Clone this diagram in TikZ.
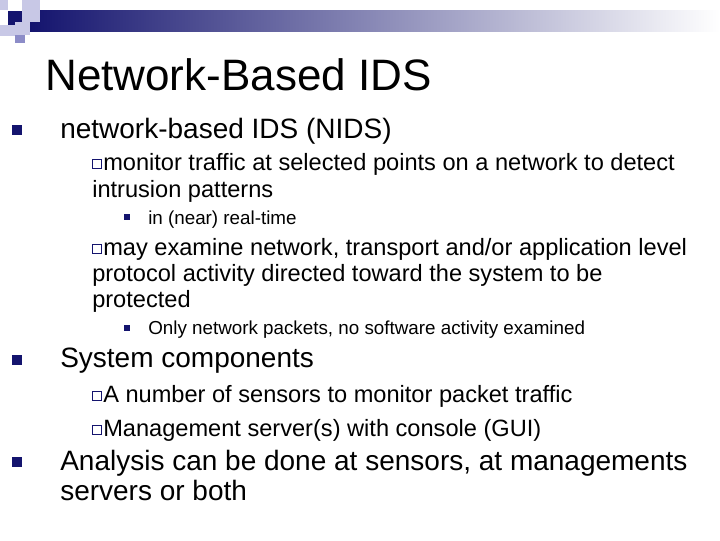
\documentclass[tikz,border=0pt]{standalone}
\usepackage{fontspec}
\setmainfont{Liberation Sans}
\begin{document}
\begin{tikzpicture}[x=0.75pt,y=-0.75pt,
 t/.style={anchor=base west,inner sep=0pt},
 lA/.style={t,font=\fontsize{21}{23}\selectfont},
 lB/.style={t,font=\fontsize{17.7}{20}\selectfont},
 lC/.style={t,font=\fontsize{14.1}{16}\selectfont},
 bA/.style={fill=bnavy,minimum size=7.5pt,inner sep=0pt},
 bB/.style={draw=bnavy,line width=0.6pt,minimum size=7pt,inner sep=0pt},
 bC/.style={fill=bnavy,minimum size=5pt,inner sep=0pt}]
\definecolor{bnavy}{RGB}{20,20,110}
\definecolor{sq1}{RGB}{200,200,230}
\definecolor{sq2}{RGB}{140,140,200}
\useasboundingbox (0,0) rectangle (720,540);
\fill[white] (0,0) rectangle (720,540);
\shade[left color=bnavy,right color=white] (30,10) rectangle (720,31);
\fill[sq1] (0,0) rectangle (8,10);
\fill[sq1] (22,0) rectangle (40,10);
\fill[sq1] (22,10) rectangle (40,22);
\fill[bnavy] (8,11) rectangle (22,25);
\fill[sq1] (0,25) rectangle (15,36);
\fill[sq1] (15,22) rectangle (30,35);
\fill[sq2] (15,35) rectangle (25,43);
\node[t,font=\fontsize{33}{35}\selectfont] (title) at (45,90) {Network-Based IDS};
\node[bA] (b1) at (17,130) {};
\node[lA] (a1) at (60,138) {network-based IDS (NIDS)};
\node[bB] (b2) at (97,164) {};
\node[lB] (a2) at (103,170) {monitor traffic at selected points on a network to detect};
\node[lB] (a2b) at (92,197) {intrusion patterns};
\node[bC] (b3) at (127,217) {};
\node[lC] (a3) at (148,224) {in (near) real-time};
\node[bB] (b4) at (97,249) {};
\node[lB] (a4) at (103,255) {may examine network, transport and/or application level};
\node[lB] (a4b) at (92,281) {protocol activity directed toward the system to be};
\node[lB] (a4c) at (92,307) {protected};
\node[bC] (b5) at (127,328) {};
\node[lC] (a5) at (148,334) {Only network packets, no software activity examined};
\node[bA] (b6) at (17,360) {};
\node[lA] (a6) at (60,367) {System components};
\node[bB] (b7) at (97,396) {};
\node[lB] (a7) at (103,402) {A number of sensors to monitor packet traffic};
\node[bB] (b8) at (97,430) {};
\node[lB] (a8) at (103,436) {Management server(s) with console (GUI)};
\node[bA] (b9) at (17,462) {};
\node[lA] (a9) at (60,470) {Analysis can be done at sensors, at managements};
\node[lA] (a9b) at (60,500) {servers or both};
\end{tikzpicture}
\end{document}
